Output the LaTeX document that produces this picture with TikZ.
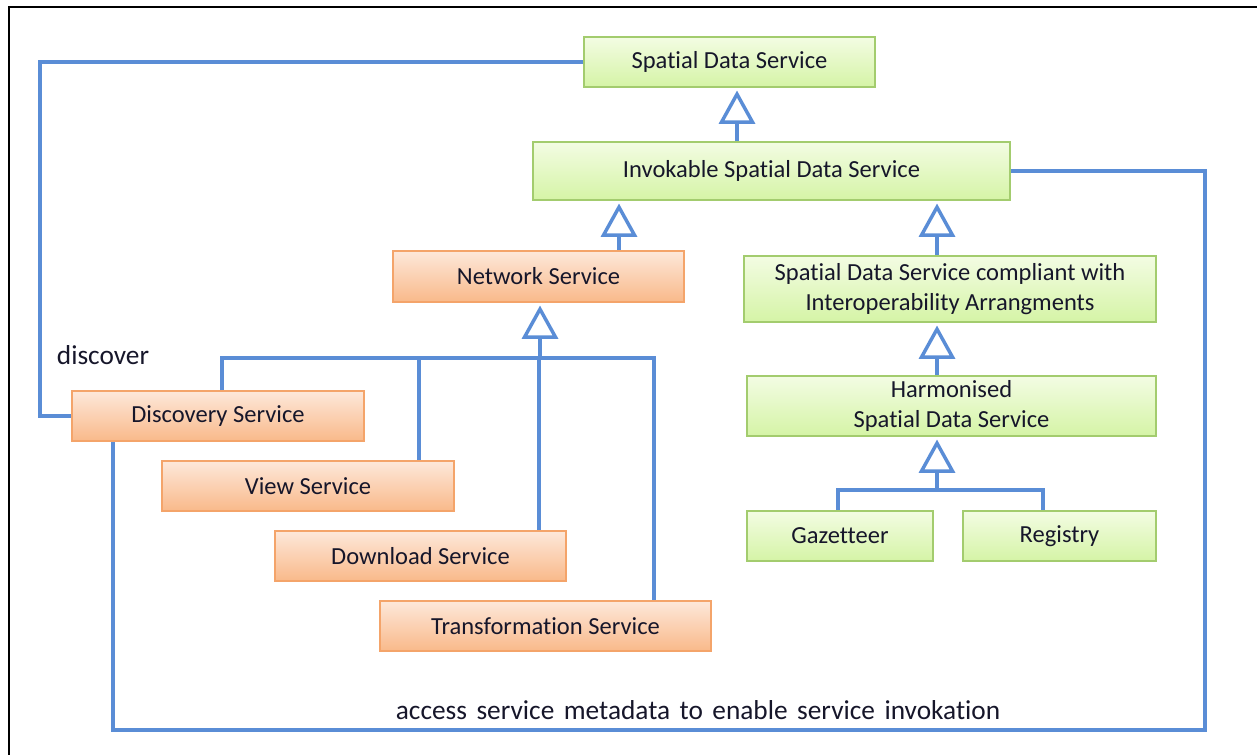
\documentclass[tikz,border=0pt]{standalone}
\usepackage{fontspec}
\setmainfont{Carlito}[Ligatures=NoCommon]
\usetikzlibrary{arrows.meta}

\definecolor{linkc}{HTML}{5A8DD6}
\definecolor{gtop}{HTML}{F3FCE3}
\definecolor{gbot}{HTML}{D5F4A6}
\definecolor{gline}{HTML}{A3CC6E}
\definecolor{otop}{HTML}{FDE8DA}
\definecolor{obot}{HTML}{F9B98A}
\definecolor{oline}{HTML}{F4A46A}
\definecolor{txt}{HTML}{16162A}

\begin{document}
\begin{tikzpicture}[x=0.75pt,y=-0.75pt,
  every node/.style={text=txt, font=\fontsize{18.4}{22.5}\selectfont},
  box/.style={rectangle, inner sep=0pt, align=center, line width=1.3pt},
  gbox/.style={box, draw=gline, top color=gtop, bottom color=gbot},
  obox/.style={box, draw=oline, top color=otop, bottom color=obot},
  link/.style={draw=linkc, line width=2.6pt, line join=miter},
  inh/.style={link, -{Triangle[open, length=25pt, width=27pt]}, shorten >=2pt},
  lbl/.style={inner sep=0pt}
]
\useasboundingbox (0,0) rectangle (1257,755);

% outer frame
\draw[black, line width=1.2pt] (9,755) -- (9,7) -- (1257,7);

% green hierarchy
\node[gbox, minimum width=291*0.75pt, minimum height=50*0.75pt] (sds)  at (729.5,62)  {Spatial Data Service};
\node[gbox, minimum width=477*0.75pt, minimum height=58*0.75pt] (inv)  at (771.5,171) {Invokable Spatial Data Service};
\node[gbox, minimum width=412*0.75pt, minimum height=66*0.75pt] (comp) at (950,289)   {Spatial Data Service compliant with\\Interoperability Arrangments};
\node[gbox, minimum width=409*0.75pt, minimum height=60*0.75pt] (harm) at (951.5,406) {Harmonised\\Spatial Data Service};
\node[gbox, minimum width=186*0.75pt, minimum height=50*0.75pt] (gaz)  at (840,536)   {Gazetteer};
\node[gbox, minimum width=193*0.75pt, minimum height=50*0.75pt] (reg)  at (1059.5,536){Registry};

% orange network services
\node[obox, minimum width=291*0.75pt, minimum height=51*0.75pt] (net)   at (538.5,276.5) {Network Service};
\node[obox, minimum width=292*0.75pt, minimum height=50*0.75pt] (disc)  at (218,416)     {Discovery Service};
\node[obox, minimum width=292*0.75pt, minimum height=50*0.75pt] (view)  at (308,486)     {View Service};
\node[obox, minimum width=291*0.75pt, minimum height=50*0.75pt] (down)  at (420.5,556)   {Download Service};
\node[obox, minimum width=331*0.75pt, minimum height=50*0.75pt] (trans) at (545.5,626)   {Transformation Service};

% helper positions for connector columns and rows
\coordinate (c737) at (737,0);
\coordinate (c619) at (619,0);
\coordinate (c937) at (937,0);
\coordinate (c838) at (838,0);
\coordinate (c1043) at (1043,0);
\coordinate (c222) at (222,0);
\coordinate (c419) at (419,0);
\coordinate (c539) at (539,0);
\coordinate (c654) at (654,0);
\coordinate (c40) at (40,0);
\coordinate (c113) at (113,0);
\coordinate (c1205) at (1205,0);
\coordinate (r730) at (0,730);
\coordinate (jn) at (540,358);
\coordinate (jg) at (937,490);

% generalisation arrows
\draw[inh] (inv.north -| c737) -- (sds.south -| c737);
\draw[inh] (net.north -| c619) -- (inv.south -| c619);
\draw[inh] (comp.north -| c937) -- (inv.south -| c937);
\draw[inh] (harm.north -| c937) -- (comp.south -| c937);

\draw[link] (gaz.north -| c838) |- (jg) -| (reg.north -| c1043);
\draw[inh] (jg) -- (harm.south -| jg);

\draw[link] (disc.north -| c222) |- (jn) -| (trans.north -| c654);
\draw[link] (view.north -| c419) -- (c419 |- jn);
\draw[link] (down.north -| c539) -- (c539 |- jn);
\draw[inh] (jn) -- (net.south -| jn);

% associations
\draw[link] (sds.west) -- (sds.west -| c40) -- (c40 |- disc.west) -- (disc.west);
\draw[link, line width=2.9pt] (inv.east) -- (inv.east -| c1205) -- (c1205 |- r730) -- (c113 |- r730) -- (disc.south -| c113);

\node[lbl, font=\fontsize{20.5}{24}\selectfont] (ldisc) at (103,355) {discover};
\node[lbl, font=\fontsize{20.5}{24}\selectfont] (lacc) at (698,710)
  {\spaceskip=7.1pt plus 1pt minus 1pt\relax access service metadata to enable service invokation};
\end{tikzpicture}
\end{document}
